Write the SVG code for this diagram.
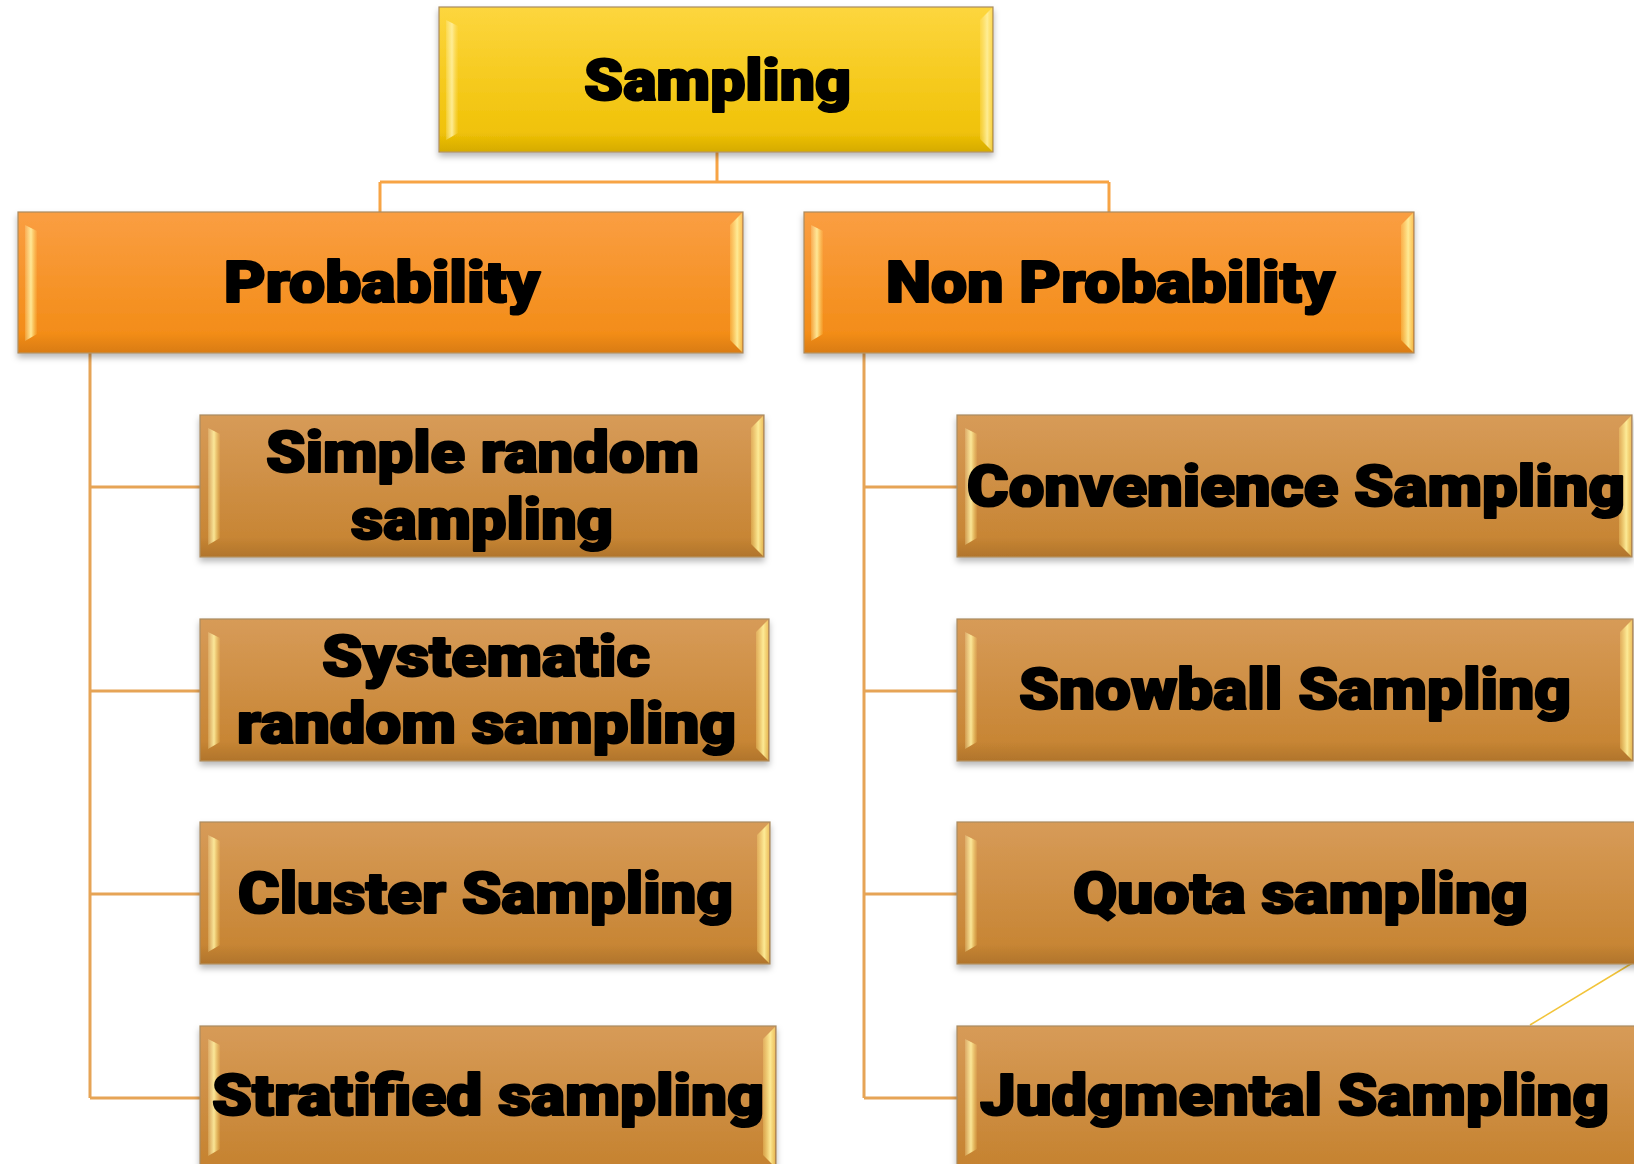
<svg xmlns="http://www.w3.org/2000/svg" width="1634" height="1164" viewBox="0 0 1634 1164">
<defs>
  <linearGradient id="gY" x1="0" y1="0" x2="0" y2="1">
    <stop offset="0" stop-color="#FDD63E"/>
    <stop offset="1" stop-color="#EEBF00"/>
  </linearGradient>
  <linearGradient id="gO" x1="0" y1="0" x2="0" y2="1">
    <stop offset="0" stop-color="#FA9E42"/>
    <stop offset="1" stop-color="#F28A12"/>
  </linearGradient>
  <linearGradient id="gB" x1="0" y1="0" x2="0" y2="1">
    <stop offset="0" stop-color="#D79B58"/>
    <stop offset="1" stop-color="#C5822F"/>
  </linearGradient>
  <linearGradient id="hl" x1="0" y1="0" x2="1" y2="0">
    <stop offset="0" stop-color="#FFF3B0" stop-opacity="0.2"/>
    <stop offset="0.5" stop-color="#FFF0A0" stop-opacity="0.9"/>
    <stop offset="1" stop-color="#FFE070" stop-opacity="0.1"/>
  </linearGradient>
  <linearGradient id="hr" x1="0" y1="0" x2="1" y2="0">
    <stop offset="0" stop-color="#FFE27A" stop-opacity="0.3"/>
    <stop offset="0.6" stop-color="#FFEF9A" stop-opacity="0.95"/>
    <stop offset="1" stop-color="#FFE070" stop-opacity="0.6"/>
  </linearGradient>
  <linearGradient id="gbot" x1="0" y1="0" x2="0" y2="1">
    <stop offset="0" stop-color="#000" stop-opacity="0"/>
    <stop offset="1" stop-color="#000" stop-opacity="0.1"/>
  </linearGradient>
  <filter id="sh" x="-5%" y="-10%" width="110%" height="125%">
    <feDropShadow dx="0" dy="4" stdDeviation="3" flood-color="#000" flood-opacity="0.28"/>
  </filter>
  <style>
    .box { stroke: #A88A60; stroke-width: 1.2; filter: url(#sh); }
    .y { fill: url(#gY); }
    .o { fill: url(#gO); }
    .b { fill: url(#gB); }
    .hl { fill: url(#hl); }
    .hr { fill: url(#hr); }
    .bot { fill: url(#gbot); }
    .t { font-family: Roboto, "Liberation Sans", "DejaVu Sans", sans-serif; font-weight: 900; font-size: 58px; fill: #000; stroke: #000; stroke-width: 2.2; stroke-linejoin: round; }
    .c { fill: none; stroke: #E6A456; stroke-width: 3; }
    .ct { fill: none; stroke: #F7A445; stroke-width: 3; }
  </style>
</defs>

<g id="connectors">
  <path class="ct" d="M717 152 V182 M380 182 H1109 M380 182 V212 M1109 182 V212"/>
  <path class="c" d="M90 353 V1098 M90 487 H200 M90 691 H200 M90 894 H200 M90 1098 H200"/>
  <path class="c" d="M864 353 V1098 M864 487 H957 M864 691 H957 M864 894 H957 M864 1098 H957"/>
  <line x1="1634" y1="962" x2="1530" y2="1025" stroke="#F2C43A" stroke-width="1.5"/>
</g>

<g id="node-sampling">
  <rect class="box y" x="439" y="7" width="554" height="145"/>
  <rect class="bot" x="440" y="132" width="552" height="19"/>
  <path class="hl" d="M446 20 L458 26 V133 L446 140 Z"/>
  <path class="hr" d="M980 20 L992 8 V151 L980 139 Z"/>
  <text class="t" x="584" y="100" textLength="267" lengthAdjust="spacingAndGlyphs">Sampling</text>
</g>

<g id="node-probability">
  <rect class="box o" x="18" y="212" width="725" height="141"/>
  <rect class="bot" x="19" y="333" width="723" height="19"/>
  <path class="hl" d="M25 225 L37 231 V334 L25 341 Z"/>
  <path class="hr" d="M730 225 L742 213 V352 L730 340 Z"/>
  <text class="t" x="224" y="302" textLength="316" lengthAdjust="spacingAndGlyphs">Probability</text>
</g>

<g id="node-nonprobability">
  <rect class="box o" x="804" y="212" width="610" height="141"/>
  <rect class="bot" x="805" y="333" width="608" height="19"/>
  <path class="hl" d="M811 225 L823 231 V334 L811 341 Z"/>
  <path class="hr" d="M1401 225 L1413 213 V352 L1401 340 Z"/>
  <text class="t" x="886" y="302" textLength="449" lengthAdjust="spacingAndGlyphs">Non Probability</text>
</g>

<g id="node-simple">
  <rect class="box b" x="200" y="415" width="564" height="142"/>
  <rect class="bot" x="201" y="537" width="562" height="19"/>
  <path class="hl" d="M208 428 L220 434 V538 L208 545 Z"/>
  <path class="hr" d="M751 428 L763 416 V556 L751 544 Z"/>
  <text class="t" x="266" y="472" textLength="433" lengthAdjust="spacingAndGlyphs">Simple random</text>
  <text class="t" x="351" y="539" textLength="262" lengthAdjust="spacingAndGlyphs">sampling</text>
</g>

<g id="node-systematic">
  <rect class="box b" x="200" y="619" width="569" height="142"/>
  <rect class="bot" x="201" y="741" width="567" height="19"/>
  <path class="hl" d="M208 632 L220 638 V742 L208 749 Z"/>
  <path class="hr" d="M756 632 L768 620 V760 L756 748 Z"/>
  <text class="t" x="322" y="676" textLength="328" lengthAdjust="spacingAndGlyphs">Systematic</text>
  <text class="t" x="237" y="743" textLength="499" lengthAdjust="spacingAndGlyphs">random sampling</text>
</g>

<g id="node-cluster">
  <rect class="box b" x="200" y="822" width="570" height="142"/>
  <rect class="bot" x="201" y="944" width="568" height="19"/>
  <path class="hl" d="M208 835 L220 841 V945 L208 952 Z"/>
  <path class="hr" d="M757 835 L769 823 V963 L757 951 Z"/>
  <text class="t" x="238" y="913" textLength="495" lengthAdjust="spacingAndGlyphs">Cluster Sampling</text>
</g>

<g id="node-stratified">
  <rect class="box b" x="200" y="1026" width="576" height="142"/>
  <path class="hl" d="M208 1039 L220 1045 V1149 L208 1156 Z"/>
  <path class="hr" d="M763 1039 L775 1027 V1167 L763 1155 Z"/>
  <text class="t" x="212" y="1115" textLength="552" lengthAdjust="spacingAndGlyphs">Stratified sampling</text>
</g>

<g id="node-convenience">
  <rect class="box b" x="957" y="415" width="675" height="142"/>
  <rect class="bot" x="958" y="537" width="673" height="19"/>
  <path class="hl" d="M965 428 L977 434 V538 L965 545 Z"/>
  <path class="hr" d="M1619 428 L1631 416 V556 L1619 544 Z"/>
  <text class="t" x="967" y="506" textLength="658" lengthAdjust="spacingAndGlyphs">Convenience Sampling</text>
</g>

<g id="node-snowball">
  <rect class="box b" x="957" y="619" width="676" height="142"/>
  <rect class="bot" x="958" y="741" width="674" height="19"/>
  <path class="hl" d="M965 632 L977 638 V742 L965 749 Z"/>
  <path class="hr" d="M1620 632 L1632 620 V760 L1620 748 Z"/>
  <text class="t" x="1019" y="709" textLength="552" lengthAdjust="spacingAndGlyphs">Snowball Sampling</text>
</g>

<g id="node-quota">
  <rect class="box b" x="957" y="822" width="690" height="142"/>
  <rect class="bot" x="958" y="944" width="688" height="19"/>
  <path class="hl" d="M965 835 L977 841 V945 L965 952 Z"/>
  <text class="t" x="1073" y="913" textLength="455" lengthAdjust="spacingAndGlyphs">Quota sampling</text>
</g>

<g id="node-judgmental">
  <rect class="box b" x="957" y="1026" width="690" height="142"/>
  <path class="hl" d="M965 1039 L977 1045 V1149 L965 1156 Z"/>
  <text class="t" x="980" y="1115" textLength="629" lengthAdjust="spacingAndGlyphs">Judgmental Sampling</text>
</g>
</svg>
